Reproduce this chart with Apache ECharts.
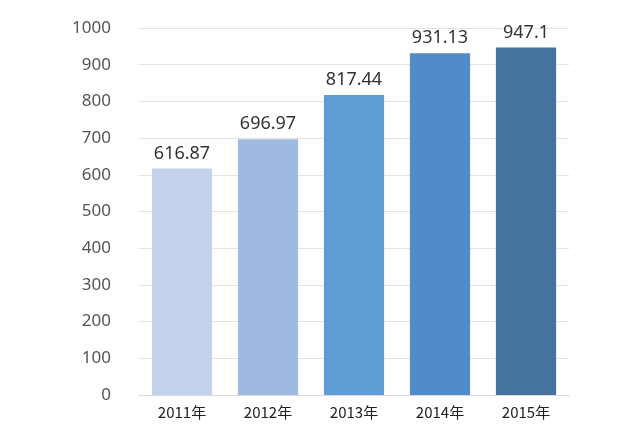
<!DOCTYPE html>
<html><head><meta charset="utf-8">
<script src="https://cdn.jsdelivr.net/npm/echarts@6/dist/echarts.min.js"></script>
<style>html,body{margin:0;background:#fff}#c{width:640px;height:443px}</style>
</head><body><div id="c"></div>
<script>
const years = ['2011年', '2012年', '2013年', '2014年', '2015年'];
const values = [616.87, 696.97, 817.44, 931.13, 947.1];
const barColors = ['#c3d3eb', '#a0b9e0', '#5f9bd5', '#528bc8', '#45729f'];

const chart = echarts.init(document.getElementById('c'));
chart.setOption({
  animation: false,
  grid: { left: 139, right: 71, top: 28, bottom: 48 },
  xAxis: {
    type: 'category', data: years,
    axisLine: { lineStyle: { color: '#d9d9d9' } },
    axisTick: { show: false },
    axisLabel: { color: '#222', fontSize: 15, margin: 10, fontFamily: 'Noto Sans CJK SC' }
  },
  yAxis: {
    type: 'value', min: 0, max: 1000, interval: 100,
    axisLabel: { color: '#555', fontSize: 17, margin: 28, fontFamily: 'Noto Sans', formatter: v => String(v) },
    splitLine: { lineStyle: { color: '#e3e3e3' } }
  },
  series: [{
    type: 'bar', barWidth: '70%',
    data: values.map((v, i) => ({ value: v, itemStyle: { color: barColors[i] } })),
    label: { show: true, position: 'top', color: '#333', fontSize: 18, distance: 6, fontFamily: 'Noto Sans' }
  }]
});
</script></body></html>
